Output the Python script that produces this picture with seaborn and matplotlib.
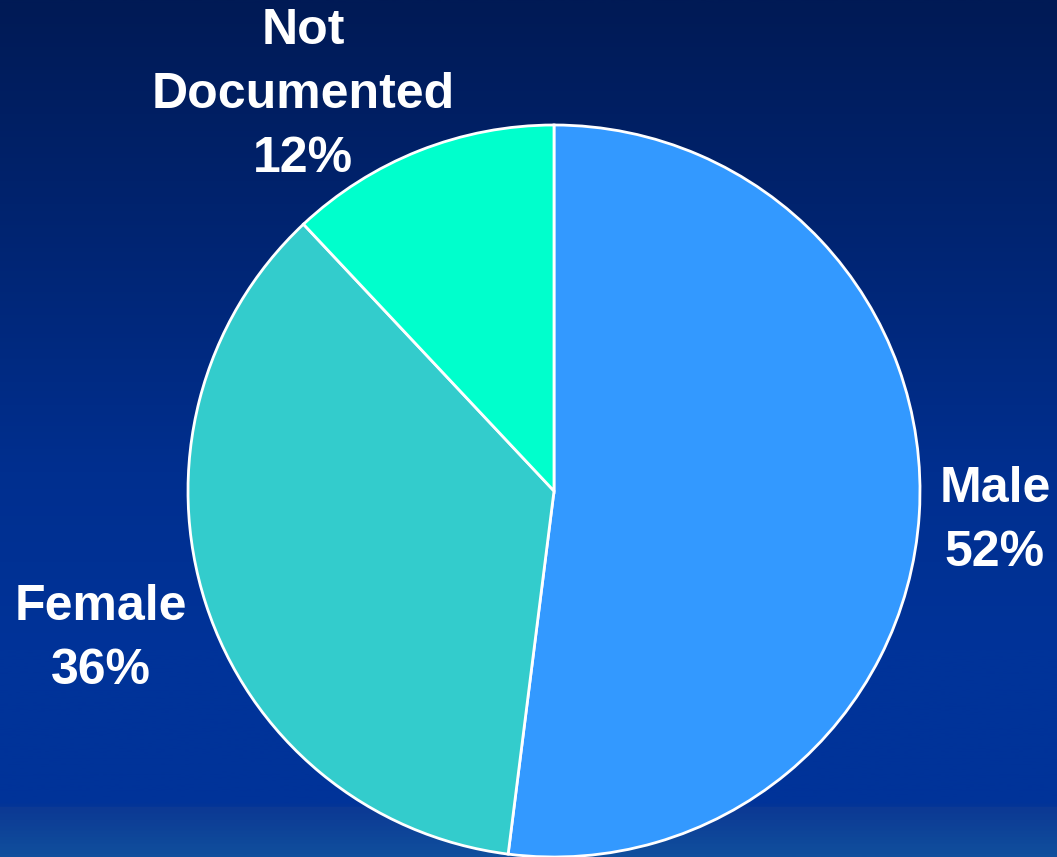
import numpy as np
import matplotlib
matplotlib.use("Agg")
import matplotlib.pyplot as plt
from matplotlib.colors import LinearSegmentedColormap
import seaborn as sns

# Gender breakdown (percent of records)
categories = ["Male", "Female", "Not\nDocumented"]
shares = [52, 36, 12]
slice_colors = ["#3399FF", "#33CCCC", "#00FFCC"]

sns.set_theme(style="white")
plt.rcParams["font.family"] = ["Liberation Sans", "DejaVu Sans"]

W, H = 1057, 857
fig = plt.figure(figsize=(W / 100, H / 100), dpi=100)

# Background: navy-to-blue vertical gradient with a lighter band along the bottom
bg = fig.add_axes([0, 0, 1, 1])
bg.set_axis_off()
stops = [(0.0, "#001a55"), (0.55, "#002f8f"), (0.76, "#003399"),
         (0.94, "#003399"), (0.945, "#0c3994"), (1.0, "#104f9d")]
cmap = LinearSegmentedColormap.from_list("bgfade", stops)
grad = np.linspace(0, 1, 1024).reshape(-1, 1)
bg.imshow(grad, aspect="auto", cmap=cmap, extent=[0, 1, 0, 1], origin="upper")
bg.set_xlim(0, 1)
bg.set_ylim(0, 1)

# Pie axes laid out in pixel units (y measured from the top)
ax = fig.add_axes([0, 0, 1, 1])
ax.set_axis_off()
ax.patch.set_alpha(0)

cx, cy, r = 554, 491, 366
wedges, _ = ax.pie(
    shares,
    colors=slice_colors,
    startangle=90,
    counterclock=False,
    center=(cx, H - cy),
    radius=r,
    wedgeprops=dict(edgecolor="white", linewidth=2),
    frame=False,
)
# pie draws in y-up coordinates; mirror the wedges into the y-down frame
for w in wedges:
    w.set_center((cx, cy))
    t1, t2 = w.theta1, w.theta2
    w.set_theta1(-t2)
    w.set_theta2(-t1)
ax.set_xlim(0, W)
ax.set_ylim(H, 0)
ax.set_aspect("equal")

label_pos = [(995, 521), (101, 639), (303, 95)]
for name, val, (tx, ty) in zip(categories, shares, label_pos):
    ax.text(tx, ty, f"{name}\n{val}%", ha="center", va="center",
            color="white", fontsize=36, fontweight="bold", linespacing=1.5)

fig.savefig("out.png", dpi=100)
